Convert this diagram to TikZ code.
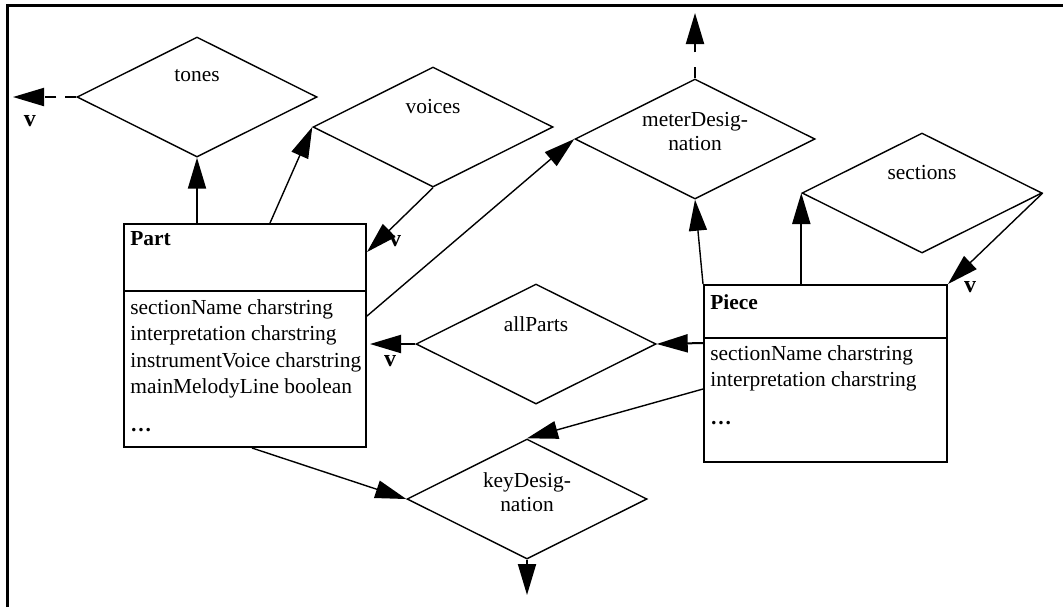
\documentclass[tikz,border=0pt]{standalone}
\usepackage{fontspec}
\setmainfont{Liberation Serif}
\usetikzlibrary{shapes, arrows.meta, calc}

\tikzset{
  relship/.style={diamond, draw, line width=0.7pt, minimum width=120pt, minimum height=60pt, inner sep=0pt},
  reltext/.style={anchor=north, align=center, inner sep=0pt, font=\fontsize{10.7}{12}\selectfont},
  entbox/.style={draw, line width=1pt, inner sep=0pt},
  enttitle/.style={anchor=north west, inner sep=0pt, font=\fontsize{10.7}{12}\selectfont\bfseries},
  entattrs/.style={anchor=north west, align=left, inner sep=0pt, font=\fontsize{10.7}{13.25}\selectfont},
  vmark/.style={inner sep=0pt, font=\fontsize{12}{12}\selectfont\bfseries},
  heavy/.style={line width=1pt, -{Triangle[length=15.5pt, width=9pt]}},
  light/.style={line width=0.7pt, -{Triangle[length=15.5pt, width=9pt]}},
  broken/.style={heavy, dash pattern=on 5.5pt off 5pt},
}

\begin{document}
\begin{tikzpicture}[x=0.5pt, y=-0.5pt]
  \useasboundingbox (0,0) rectangle (1063,607);
  \draw[line width=1.5pt] (7,607) -- (7,5.5) -- (1063,5.5);

  % relationships
  \node[relship] (tones) at (197,97) {};
  \node[relship] (voices) at (433,127) {};
  \node[relship] (meter) at (695,139) {};
  \node[relship] (sections) at (922,193) {};
  \node[relship] (allparts) at (536,344) {};
  \node[relship] (keydes) at (527,499) {};
  \node[reltext] (tonestext) at ([yshift=-16.5pt]tones.north) {tones};
  \node[reltext] (voicestext) at ([yshift=-16.5pt]voices.north) {voices};
  \node[reltext] (metertext) at ([yshift=-17pt]meter.north) {meterDesig-\\nation};
  \node[reltext] (sectionstext) at ([yshift=-16.5pt]sections.north) {sections};
  \node[reltext] (allpartstext) at ([yshift=-16.5pt]allparts.north) {allParts};
  \node[reltext] (keydestext) at ([yshift=-17pt]keydes.north) {keyDesig-\\nation};

  % entities
  \node[entbox, minimum width=121pt, minimum height=111.5pt] (part) at (245,335.5) {};
  \draw[line width=1pt] ([yshift=-34pt]part.north west) -- ([yshift=-34pt]part.north east);
  \node[enttitle] (partname) at ([xshift=3.5pt, yshift=-4pt]part.north west) {Part};
  \node[entattrs] (partattrs) at ([xshift=3.5pt, yshift=-38pt]part.north west)
    {sectionName charstring\\interpretation charstring\\instrumentVoice charstring\\mainMelodyLine boolean\\[5.5pt]\textbf{\ldots}};

  \node[entbox, minimum width=121.5pt, minimum height=88.5pt] (piece) at (825.5,373.5) {};
  \draw[line width=1pt] ([yshift=-27pt]piece.north west) -- ([yshift=-27pt]piece.north east);
  \node[enttitle] (piecename) at ([xshift=3.5pt, yshift=-5pt]piece.north west) {Piece};
  \node[entattrs] (pieceattrs) at ([xshift=3.5pt, yshift=-30.5pt]piece.north west)
    {sectionName charstring\\interpretation charstring\\[5.5pt]\textbf{\ldots}};

  % loose ends
  \coordinate (tonesend) at (13,97);
  \coordinate (meterend) at (695,13);
  \coordinate (allpartsend) at (370,344);
  \coordinate (keydesend) at (527,595);

  % connectors
  \draw[heavy] (tones.south |- part.north) -- (tones.south);
  \draw[broken, dash pattern=on 5.5pt off 4.5pt] (tones.west) -- (tonesend);
  \draw[light] ($(part.north)+(25,0)$) -- (voices.west);
  \draw[light] (voices.south) -- ([yshift=-14.5pt]part.north east);
  \draw[light] ([yshift=-46.5pt]part.north east) -- (meter.west);
  \draw[broken, dash pattern=on 5.5pt off 7.5pt] (meter.north) -- (meterend);
  \draw[heavy] ([yshift=-29.5pt]piece.north west) -- (allparts.east);
  \draw[heavy] (allparts.west) -- (allpartsend);
  \draw[light] (piece.north west) -- (meter.south);
  \draw[heavy] (sections.west |- piece.north) -- (sections.west);
  \draw[light] (sections.east) -- (piece.north east);
  \draw[light] ([yshift=-52.5pt]piece.north west) -- (keydes.north);
  \draw[light] ([xshift=3.5pt]part.south) -- (keydes.west);
  \draw[heavy] (keydes.south) -- (keydesend);

  \node[vmark] (tonesv) at (30,121) {v};
  \node[vmark] (voicesv) at (395,241) {v};
  \node[vmark] (allpartsv) at (390,361) {v};
  \node[vmark] (sectionsv) at (970,287) {v};
\end{tikzpicture}
\end{document}
